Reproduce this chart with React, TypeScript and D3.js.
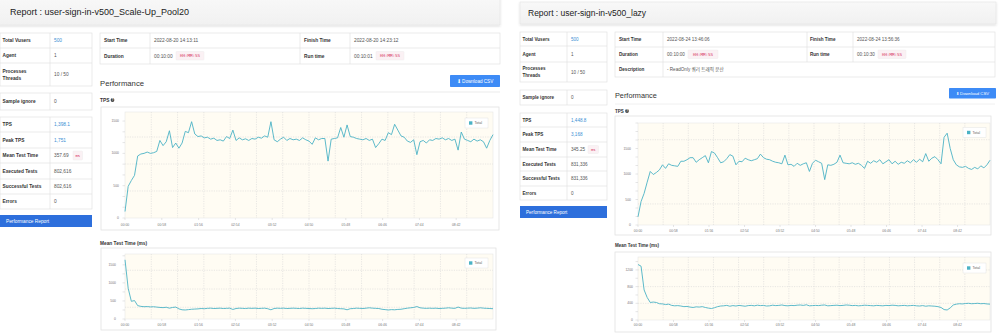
import React from "react";
import * as d3 from "d3";

const FONT = "'Liberation Sans', Arial, Helvetica, sans-serif";
const MONO = "'DejaVu Sans Mono', 'Liberation Mono', monospace";
const KR = "'Liberation Sans', 'Noto Sans CJK KR', sans-serif";

// ---------- data ----------
const SAMPLE_SECONDS = 5;
const X_TICK_SECONDS = [0, 58, 116, 174, 232, 290, 348, 406, 464, 522];
const SERIES_NAME = "Total";

const LEFT_TITLE = "Report : user-sign-in-v500_Scale-Up_Pool20";
const RIGHT_TITLE = "Report : user-sign-in-v500_lazy";

const SUMMARY_TOP_LABELS = ["Total Vusers", "Agent", "Processes|Threads"];
const SUMMARY_STAT_LABELS = ["TPS", "Peak TPS", "Mean Test Time", "Executed Tests", "Successful Tests", "Errors"];

const LEFT_TOP_VALUES = ["500", "1", "10 / 50"];
const LEFT_SAMPLE_IGNORE = "0";
const LEFT_STAT_VALUES = ["1,398.1", "1,751", "357.69", "802,616", "802,616", "0"];
const RIGHT_TOP_VALUES = ["500", "1", "10 / 50"];
const RIGHT_SAMPLE_IGNORE = "0";
const RIGHT_STAT_VALUES = ["1,448.8", "3,168", "345.25", "831,336", "831,336", "0"];

const LEFT_START = "2022-08-20 14:13:11";
const LEFT_FINISH = "2022-08-20 14:23:12";
const LEFT_DURATION = "00:10:00";
const LEFT_RUNTIME = "00:10:01";
const RIGHT_START = "2022-08-24 13:46:06";
const RIGHT_FINISH = "2022-08-24 13:56:36";
const RIGHT_DURATION = "00:10:00";
const RIGHT_RUNTIME = "00:10:30";
const RIGHT_DESCRIPTION = "- ReadOnly 쿼리 트래픽 분산";

const LEFT_TPS = [
  100, 490, 580, 660, 960, 990, 1000, 1020, 1000, 1010,
  1030, 1200, 1120, 1180, 1350, 1090, 1160, 1080, 1160, 1340,
  1320, 1490, 1300, 1260, 1270, 1240, 1250, 1220, 1235, 1200,
  1210, 1190, 1260, 1230, 1360, 1200, 1240, 1210, 1225, 1200,
  1230, 1220, 1250, 1235, 1270, 1250, 1490, 1210, 1180, 1220,
  1250, 1200, 1230, 1210, 1220, 1200, 1240, 1210, 1190, 1140,
  1240, 1210, 1230, 1230, 880, 1220, 1230, 1240, 1400, 1250,
  1440, 1260, 1250, 1230, 1220, 1210, 1230, 1200, 1220, 1090,
  1150, 1220, 1200, 1320, 1290, 1450, 1360, 1270, 1250, 1190,
  1170, 1210, 980, 1180, 1200, 1160, 1210, 1200, 1230, 1220,
  1240, 1210, 1230, 1200, 1220, 1050, 1330, 1220, 1200, 1180,
  1220, 1190, 1210, 1180, 1080, 1200, 1290,
];

const LEFT_MTT = [
  1640, 850, 490, 510, 370, 350, 340, 345, 335, 340,
  330, 320, 315, 325, 300, 320, 330, 280, 255, 250,
  260, 270, 275, 280, 290, 285, 295, 300, 290, 295,
  300, 290, 295, 300, 265, 290, 300, 295, 290, 300,
  295, 300, 290, 295, 300, 285, 255, 290, 300, 295,
  300, 290, 295, 300, 295, 290, 300, 295, 290, 285,
  290, 300, 295, 300, 290, 295, 300, 290, 285, 280,
  255, 285, 290, 300, 295, 290, 300, 310, 300, 295,
  290, 270, 260, 250, 260, 255, 265, 270, 285, 300,
  310, 320, 345, 310, 300, 295, 300, 295, 300, 290,
  295, 300, 310, 300, 295, 330, 300, 295, 300, 305,
  295, 300, 310, 300, 295, 290, 285,
];

const RIGHT_TPS = [
  160, 460, 620, 840, 1050, 990, 1030, 1080, 1180, 1110,
  1200, 1170, 1160, 1150, 1250, 1250, 1280, 1320, 1320, 1230,
  1280, 1320, 1360, 1220, 1440, 1410, 1320, 1220, 1240, 1300,
  1380, 1350, 1180, 1250, 1240, 1310, 1280, 1260, 1280, 1300,
  1390, 1320, 1290, 1280, 1250, 1230, 1220, 1200, 1370, 1180,
  1190, 1150, 1210, 1170, 1200, 1220, 1050, 1210, 1270, 1240,
  1210, 890, 1180, 1170, 1190, 1230, 1370, 1220, 1210, 1200,
  1220, 1190, 1210, 1170, 1110, 1250, 1210, 1260, 1230, 1280,
  1200, 1240, 1280, 1200, 1250, 1190, 1230, 1210, 1260, 1220,
  1280, 1230, 1290, 1240, 1400, 1250, 1310, 1340, 1280, 1200,
  1720, 1800, 1500, 1280, 1180, 1140, 1130, 1150, 1110, 1090,
  1130, 1100, 1160, 1120, 1180, 1270,
];

const RIGHT_MTT = [
  1330, 1290, 720, 540, 420, 430, 420, 390, 385, 370,
  380, 350, 340, 345, 335, 320, 325, 310, 300, 315,
  310, 320, 300, 285, 275, 295, 320, 335, 340, 350,
  330, 345, 335, 350, 340, 330, 345, 350, 340, 355,
  345, 350, 335, 340, 355, 345, 350, 360, 345, 340,
  350, 345, 355, 360, 350, 365, 340, 345, 350, 345,
  355, 360, 340, 345, 350, 355, 345, 350, 360, 355,
  345, 350, 340, 345, 355, 350, 345, 340, 350, 345,
  340, 350, 345, 355, 350, 340, 345, 350, 340, 345,
  350, 340, 335, 345, 330, 340, 335, 330, 320, 300,
  250, 240, 290, 360, 380, 390, 385, 395, 400, 390,
  395, 400, 390, 395, 385, 380,
];

const LEFT_TPS_Y_LABELS = [0, 500, 1000, 1500];
const LEFT_TPS_Y_GRID = [418, 835, 1253];
const LEFT_MTT_Y_LABELS = [0, 500, 1000, 1500];
const LEFT_MTT_Y_GRID = [325, 830, 1350];
const RIGHT_TPS_Y_LABELS = [0, 500, 1000, 1500];
const RIGHT_TPS_Y_GRID = [413, 1672];
const RIGHT_MTT_Y_LABELS = [0, 400, 800, 1200];
const RIGHT_MTT_Y_GRID = [400, 800, 1200];

// ---------- styles ----------
const LINE_COLOR = "#4bb2c5";
const BLUE_VALUE = "#3b8fd4";
const BTN_DARK = "#2d6fdc";
const BTN_LIGHT = "#3d8bf6";
const BORDER = "#e2e2e2";

const two = d3.format("02d");
const fmtTime = (s: number) => `${two(Math.floor(s / 60))}:${two(s % 60)}`;

type Rect = { x: number; y: number; w: number; h: number };

function LineChart(props: {
  box: Rect; plot: Rect; values: number[]; xMax: number; yMax: number;
  yLabels: number[]; yMinorStep: number; yGrid: number[]; xLabelY: number;
  yLabelRight: number; legend: { x: number; y: number };
}) {
  const { box, plot, values, xMax, yMax, yLabels, yMinorStep, yGrid, xLabelY, yLabelRight, legend } = props;
  const x = d3.scaleLinear().domain([0, xMax]).range([plot.x, plot.x + plot.w]);
  const y = d3.scaleLinear().domain([0, yMax]).range([plot.y + plot.h, plot.y]);
  const path = d3.line<number>().x((_, i) => x(i * SAMPLE_SECONDS)).y((d) => y(d))(values) || "";
  const minor = d3.range(0, yMax + 0.001, yMinorStep);
  const vGrid = d3.range(1, 14).map((k) => (k * xMax) / 14);
  return (
    <g>
      <rect x={box.x} y={box.y} width={box.w} height={box.h} fill="#fff" stroke={BORDER} strokeWidth={0.8} />
      <rect x={plot.x} y={plot.y} width={plot.w} height={plot.h} fill="#fffcf3" stroke="#e6e6e6" strokeWidth={0.6} />
      {vGrid.map((t, i) => (
        <line key={"v" + i} x1={x(t)} x2={x(t)} y1={plot.y} y2={plot.y + plot.h} stroke="#d8d8d8" strokeWidth={0.6} strokeDasharray="1.2,1.2" />
      ))}
      {yGrid.map((v, i) => (
        <line key={"h" + i} x1={plot.x} x2={plot.x + plot.w} y1={y(v)} y2={y(v)} stroke="#d8d8d8" strokeWidth={0.6} strokeDasharray="1.2,1.2" />
      ))}
      {minor.map((v, i) => (
        <line key={"m" + i} x1={plot.x - 2.5} x2={plot.x} y1={y(v)} y2={y(v)} stroke="#ccc" strokeWidth={0.5} />
      ))}
      {yLabels.map((v) => (
        <text key={"yl" + v} x={yLabelRight} y={y(v)} fontSize={3.4} fill="#777" textAnchor="end" dominantBaseline="central" fontFamily={FONT}>{v}</text>
      ))}
      {X_TICK_SECONDS.map((s) => (
        <g key={"xt" + s}>
          <line x1={x(s)} x2={x(s)} y1={plot.y + plot.h} y2={plot.y + plot.h + 2} stroke="#ccc" strokeWidth={0.5} />
          <text x={x(s)} y={xLabelY} fontSize={3.4} fill="#777" textAnchor="middle" dominantBaseline="central" fontFamily={FONT}>{fmtTime(s)}</text>
        </g>
      ))}
      <path d={path} fill="none" stroke={LINE_COLOR} strokeWidth={0.9} strokeLinejoin="round" />
      <rect x={legend.x} y={legend.y} width={23} height={10} fill="#fff" stroke="#e4e4e4" strokeWidth={0.5} />
      <rect x={legend.x + 4} y={legend.y + 3.3} width={3.4} height={3.4} fill={LINE_COLOR} />
      <text x={legend.x + 9.5} y={legend.y + 5} fontSize={3.6} fill="#666" dominantBaseline="central" fontFamily={FONT}>{SERIES_NAME}</text>
    </g>
  );
}

function Label(props: { x: number; y: number; text: string; size?: number; bold?: boolean; fill?: string; family?: string; anchor?: string }) {
  const { x, y, text, size = 4.8, bold = false, fill = "#333", family = FONT, anchor = "start" } = props;
  return (
    <text x={x} y={y} fontSize={size} fontWeight={bold ? 700 : 400} fill={fill} fontFamily={family} textAnchor={anchor as any} dominantBaseline="central">{text}</text>
  );
}

function Badge(props: { x: number; y: number; w: number; h: number; text: string; size?: number }) {
  const { x, y, w, h, text, size = 4.2 } = props;
  return (
    <g>
      <rect x={x} y={y} width={w} height={h} fill="#fbf1f4" stroke="#ececec" strokeWidth={0.5} rx={0.8} />
      <text x={x + w / 2} y={y + h / 2} fontSize={size} fill="#d6335f" fontFamily={MONO} textAnchor="middle" dominantBaseline="central">{text}</text>
    </g>
  );
}

function SummaryTable(props: {
  x0: number; x1: number; x2: number; blockA: number[]; blockB: number[]; blockC: number[];
  button: number[]; topValues: string[]; sampleIgnore: string; statValues: string[];
  msBadge: Rect; size: number;
}) {
  const { x0, x1, x2, blockA, blockB, blockC, button, topValues, sampleIgnore, statValues, msBadge, size } = props;
  const block = (rows: number[], key: string) => (
    <g key={key}>
      <rect x={x0} y={rows[0]} width={x2 - x0} height={rows[rows.length - 1] - rows[0]} fill="#fff" stroke={BORDER} strokeWidth={0.7} />
      {rows.slice(1, -1).map((r, i) => (
        <line key={i} x1={x0} x2={x2} y1={r} y2={r} stroke={BORDER} strokeWidth={0.7} />
      ))}
      <line x1={x1} x2={x1} y1={rows[0]} y2={rows[rows.length - 1]} stroke={BORDER} strokeWidth={0.7} />
    </g>
  );
  const mid = (rows: number[], i: number) => (rows[i] + rows[i + 1]) / 2;
  return (
    <g>
      {block(blockA, "a")}
      {block(blockB, "b")}
      {block(blockC, "c")}
      {SUMMARY_TOP_LABELS.map((l, i) => {
        const parts = l.split("|");
        const cy = mid(blockA, i);
        return (
          <g key={l}>
            {parts.map((p, j) => (
              <Label key={p} x={x0 + 2.5} y={cy + (j - (parts.length - 1) / 2) * 7} text={p} size={size} bold />
            ))}
            <Label x={x1 + 4} y={cy} text={topValues[i]} size={size} fill={i === 0 ? BLUE_VALUE : "#555"} />
          </g>
        );
      })}
      <Label x={x0 + 2.5} y={mid(blockB, 0)} text="Sample ignore" size={size} bold />
      <Label x={x1 + 4} y={mid(blockB, 0)} text={sampleIgnore} size={size} fill="#555" />
      {SUMMARY_STAT_LABELS.map((l, i) => (
        <g key={l}>
          <Label x={x0 + 2.5} y={mid(blockC, i)} text={l} size={size} bold />
          <Label x={x1 + 4} y={mid(blockC, i)} text={statValues[i]} size={size} fill={i < 2 ? BLUE_VALUE : "#555"} />
        </g>
      ))}
      <Badge x={msBadge.x} y={msBadge.y} w={msBadge.w} h={msBadge.h} text="ms" size={3.8} />
      <rect x={x0} y={button[0]} width={x2 - x0} height={button[1] - button[0]} fill={BTN_DARK} />
      <Label x={x0 + 6} y={(button[0] + button[1]) / 2} text="Performance Report" size={size} fill="#fff" />
    </g>
  );
}

function Header(props: { x: number; y: number; w: number; h: number; text: string; size: number; tx: number }) {
  const { x, y, w, h, text, size, tx } = props;
  return (
    <g>
      <rect x={x} y={y} width={w} height={h} fill="url(#hdr)" stroke="#e3e3e3" strokeWidth={0.6} filter="url(#shadow)" />
      <Label x={tx} y={y + h / 2} text={text} size={size} fill="#222" />
    </g>
  );
}

function DownloadButton(props: { x: number; y: number; w: number; h: number; size: number }) {
  const { x, y, w, h, size } = props;
  return (
    <g>
      <rect x={x} y={y} width={w} height={h} fill={BTN_LIGHT} rx={0.8} />
      <text x={x + w / 2} y={y + h / 2} fontSize={size} fill="#fff" fontFamily={FONT} textAnchor="middle" dominantBaseline="central">⬇ Download CSV</text>
    </g>
  );
}

function HelpIcon(props: { x: number; y: number }) {
  return (
    <g>
      <circle cx={props.x} cy={props.y} r={1.9} fill="#444" />
      <text x={props.x} y={props.y + 0.1} fontSize={2.8} fill="#fff" fontWeight={700} textAnchor="middle" dominantBaseline="central" fontFamily={FONT}>?</text>
    </g>
  );
}

export default function App() {
  return (
    <div style={{ position: "absolute", left: 0, top: 0, width: 1000, height: 334, background: "#fff" }}>
      <svg width={1000} height={334} viewBox="0 0 1000 334" style={{ display: "block" }}>
        <defs>
          <linearGradient id="hdr" x1="0" y1="0" x2="0" y2="1">
            <stop offset="0" stopColor="#f8f8f8" />
            <stop offset="1" stopColor="#f1f1f1" />
          </linearGradient>
          <filter id="shadow" x="-5%" y="-20%" width="110%" height="160%">
            <feDropShadow dx="0" dy="1" stdDeviation="0.9" floodColor="#000" floodOpacity="0.15" />
          </filter>
        </defs>
        <rect x={0} y={0} width={1000} height={334} fill="#fff" />

        {/* ---------------- LEFT REPORT ---------------- */}
        <Header x={-2} y={-2} w={502} h={27} text={LEFT_TITLE} size={9} tx={10} />
        <SummaryTable
          x0={0} x1={50} x2={92}
          blockA={[33, 48, 63, 86]} blockB={[93, 110]} blockC={[117, 132, 148, 163, 179, 194, 209]}
          button={[215, 227]} topValues={LEFT_TOP_VALUES} sampleIgnore={LEFT_SAMPLE_IGNORE}
          statValues={LEFT_STAT_VALUES} msBadge={{ x: 73, y: 151, w: 9.5, h: 9 }} size={4.8}
        />
        {/* info table */}
        <g>
          <rect x={100} y={33} width={400} height={31} fill="#fff" stroke={BORDER} strokeWidth={0.7} />
          <line x1={100} x2={500} y1={48} y2={48} stroke={BORDER} strokeWidth={0.7} />
          {[150, 300, 350].map((cx) => (
            <line key={cx} x1={cx} x2={cx} y1={33} y2={64} stroke={BORDER} strokeWidth={0.7} />
          ))}
          <Label x={104} y={40.5} text="Start Time" bold />
          <Label x={154} y={40.5} text={LEFT_START} fill="#555" />
          <Label x={304} y={40.5} text="Finish Time" bold />
          <Label x={354} y={40.5} text={LEFT_FINISH} fill="#555" />
          <Label x={104} y={56} text="Duration" bold />
          <Label x={154} y={56} text={LEFT_DURATION} fill="#555" />
          <Badge x={176} y={51.5} w={28} h={8.5} text="HH:MM:SS" />
          <Label x={304} y={56} text="Run time" bold />
          <Label x={354} y={56} text={LEFT_RUNTIME} fill="#555" />
          <Badge x={376} y={51.5} w={28} h={8.5} text="HH:MM:SS" />
        </g>
        <Label x={100} y={83} text="Performance" size={7.7} fill="#333" />
        <DownloadButton x={450} y={75} w={50} h={12} size={4.6} />
        <line x1={100} x2={500} y1={92} y2={92} stroke="#e6e6e6" strokeWidth={0.8} />
        <Label x={100} y={100} text="TPS" size={4.8} bold />
        <HelpIcon x={112.5} y={100} />
        <LineChart
          box={{ x: 101, y: 107, w: 398, h: 123 }} plot={{ x: 125, y: 112, w: 368, h: 106 }}
          values={LEFT_TPS} xMax={580} yMax={1640} yLabels={LEFT_TPS_Y_LABELS} yMinorStep={500 / 3}
          yGrid={LEFT_TPS_Y_GRID} xLabelY={225} yLabelRight={119} legend={{ x: 465, y: 118 }}
        />
        <Label x={100} y={243} text="Mean Test Time (ms)" size={4.8} bold />
        <LineChart
          box={{ x: 101, y: 248, w: 395, h: 82 }} plot={{ x: 125, y: 254, w: 368, h: 65 }}
          values={LEFT_MTT} xMax={580} yMax={1800} yLabels={LEFT_MTT_Y_LABELS} yMinorStep={250}
          yGrid={LEFT_MTT_Y_GRID} xLabelY={324.5} yLabelRight={116} legend={{ x: 465, y: 258 }}
        />

        {/* ---------------- RIGHT REPORT ---------------- */}
        <Header x={520} y={2} w={476} h={22} text={RIGHT_TITLE} size={8.5} tx={528} />
        <SummaryTable
          x0={520} x1={567} x2={607}
          blockA={[32, 46, 62, 82]} blockB={[90, 105]} blockC={[113, 127, 142, 157, 171, 186, 200]}
          button={[206, 218]} topValues={RIGHT_TOP_VALUES} sampleIgnore={RIGHT_SAMPLE_IGNORE}
          statValues={RIGHT_STAT_VALUES} msBadge={{ x: 588, y: 145.5, w: 10.5, h: 8 }} size={4.6}
        />
        <g>
          <rect x={615} y={32} width={380} height={45} fill="#fff" stroke={BORDER} strokeWidth={0.7} />
          <line x1={615} x2={995} y1={47} y2={47} stroke={BORDER} strokeWidth={0.7} />
          <line x1={615} x2={995} y1={62} y2={62} stroke={BORDER} strokeWidth={0.7} />
          <line x1={663} x2={663} y1={32} y2={77} stroke={BORDER} strokeWidth={0.7} />
          {[807, 853].map((cx) => (
            <line key={cx} x1={cx} x2={cx} y1={32} y2={62} stroke={BORDER} strokeWidth={0.7} />
          ))}
          <Label x={619} y={39.5} text="Start Time" size={4.6} bold />
          <Label x={667} y={39.5} text={RIGHT_START} size={4.6} fill="#555" />
          <Label x={810} y={39.5} text="Finish Time" size={4.6} bold />
          <Label x={857} y={39.5} text={RIGHT_FINISH} size={4.6} fill="#555" />
          <Label x={619} y={54.5} text="Duration" size={4.6} bold />
          <Label x={667} y={54.5} text={RIGHT_DURATION} size={4.6} fill="#555" />
          <Badge x={688} y={50} w={30} h={8.5} text="HH:MM:SS" />
          <Label x={810} y={54.5} text="Run time" size={4.6} bold />
          <Label x={857} y={54.5} text={RIGHT_RUNTIME} size={4.6} fill="#555" />
          <Badge x={878} y={50} w={28} h={8.5} text="HH:MM:SS" />
          <Label x={619} y={69.5} text="Description" size={4.6} bold />
          <Label x={667} y={69.5} text={RIGHT_DESCRIPTION} size={4.6} fill="#555" family={KR} />
        </g>
        <Label x={615} y={95} text="Performance" size={7.3} fill="#333" />
        <DownloadButton x={949} y={88} w={47} h={10.5} size={4.3} />
        <line x1={615} x2={995} y1={104} y2={104} stroke="#ececec" strokeWidth={0.8} />
        <Label x={615} y={111} text="TPS" size={4.5} bold />
        <HelpIcon x={627} y={111} />
        <LineChart
          box={{ x: 615, y: 116, w: 376, h: 119 }} plot={{ x: 638, y: 123, w: 352, h: 102 }}
          values={RIGHT_TPS} xMax={575} yMax={2000} yLabels={RIGHT_TPS_Y_LABELS} yMinorStep={500 / 3}
          yGrid={RIGHT_TPS_Y_GRID} xLabelY={230.5} yLabelRight={631} legend={{ x: 963, y: 127.5 }}
        />
        <Label x={615} y={245.5} text="Mean Test Time (ms)" size={4.5} bold />
        <LineChart
          box={{ x: 615, y: 252, w: 376, h: 80 }} plot={{ x: 638, y: 257, w: 352, h: 63 }}
          values={RIGHT_MTT} xMax={575} yMax={1510} yLabels={RIGHT_MTT_Y_LABELS} yMinorStep={200}
          yGrid={RIGHT_MTT_Y_GRID} xLabelY={325} yLabelRight={633} legend={{ x: 963, y: 263 }}
        />
      </svg>
    </div>
  );
}
